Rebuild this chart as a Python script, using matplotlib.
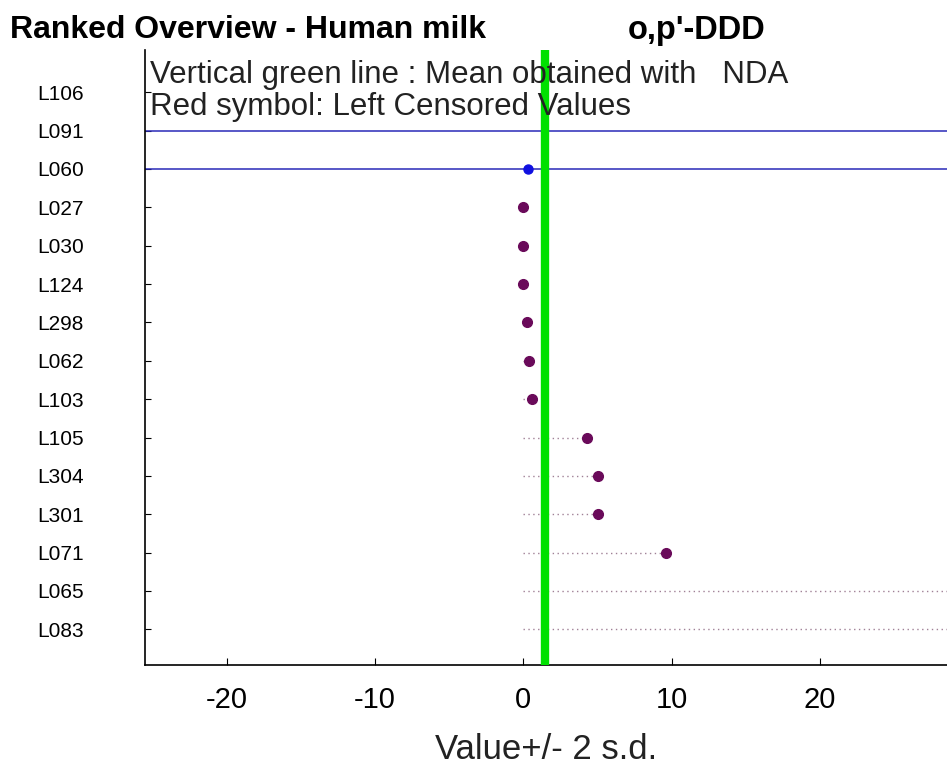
import numpy as np
import matplotlib
matplotlib.use("Agg")
from matplotlib import pyplot as plt

# labs top -> bottom
labs = ['L106', 'L091', 'L060', 'L027', 'L030', 'L124', 'L298', 'L062',
        'L103', 'L105', 'L304', 'L301', 'L071', 'L065', 'L083']
vals = [np.nan, np.nan, 0.3, 0.0, 0.0, 0.0, 0.27, 0.4,
        0.55, 4.3, 5.0, 5.0, 9.6, 36.0, 38.0]
low = [np.nan, -100, -100, 0.0, 0.0, 0.0, 0.0, 0.0,
       0.0, 0.0, 0.0, 0.0, 0.0, 0.0, 0.0]
# labs whose +/- 2 s.d. interval is unbounded (drawn as blue lines)
wide = ['L091', 'L060']
mean_nda = 1.48

plt.rcParams['font.family'] = ['Liberation Sans', 'DejaVu Sans']
plt.rcParams['axes.unicode_minus'] = False

fig = plt.figure(figsize=(9.47, 7.73), dpi=100)
ax = fig.add_axes([0.1531, 0.1397, 0.8469, 0.7956])

n = len(labs)
ypos = np.arange(n, 0, -1)

for lab, y, v, lo in zip(labs, ypos, vals, low):
    if lab in wide:
        ax.axhline(y, color='#2a2ab8', lw=1.1, zorder=2)
        if not np.isnan(v):
            ax.plot(v, y, 'o', color='#1010e0', ms=6.5, zorder=4)
        continue
    if np.isnan(v):
        continue
    ax.plot([lo, v], [y, y], ls=(0, (1, 2.5)), color='#a08096', lw=1.0, zorder=2)
    ax.plot(v, y, 'o', color='#6a0a5a', ms=7, zorder=4)

ax.axvline(mean_nda, color='#00e000', lw=6, zorder=3)

ax.set_xlim(-25.5, 28.55)
ax.set_ylim(0.07, 16.1)
ax.set_xticks([-20, -10, 0, 10, 20])
ax.set_yticks(ypos)
ax.set_yticklabels(labs)
ax.tick_params(axis='x', direction='in', length=5, labelsize=21, pad=15)
ax.tick_params(axis='y', direction='in', length=4, labelsize=15, pad=44)
for s in ['top', 'right']:
    ax.spines[s].set_visible(False)
ax.spines['left'].set_linewidth(1.2)
ax.spines['bottom'].set_linewidth(1.2)

ax.set_xlabel('Value+/- 2 s.d.', fontsize=25, labelpad=14, color='#222222')

ax.text(0.006, 0.959, 'Vertical green line : Mean obtained with   NDA',
        transform=ax.transAxes, fontsize=22.5, va='center', ha='left', color='#222222')
ax.text(0.006, 0.907, 'Red symbol: Left Censored Values',
        transform=ax.transAxes, fontsize=22.5, va='center', ha='left', color='#222222')

fig.text(0.011, 0.961, "Ranked Overview - Human milk",
         fontsize=23, fontweight='bold', va='center', ha='left')
fig.text(0.663, 0.961, "o,p'-DDD",
         fontsize=23.5, fontweight='bold', va='center', ha='left')

fig.savefig('out.png', dpi=100, facecolor='white')
